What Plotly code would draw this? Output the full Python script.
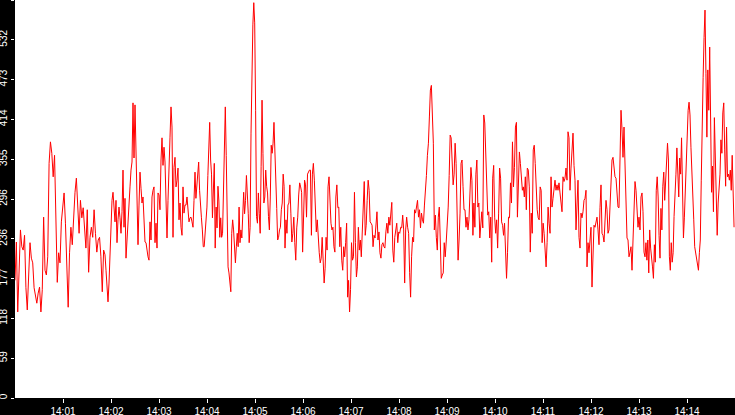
import numpy as np
import pandas as pd
import plotly.graph_objects as go

# samples, one list per 112.5 s stretch (14:00:00 -> 14:15:00)
seg_1 = [175, 232, 128, 187, 250, 225, 220, 242, 164, 131, 190, 231, 208, 201,
         164, 150, 141, 156, 165, 128, 161, 269, 190, 183, 210, 349, 381, 364,
         329, 361, 275, 172, 216, 201, 262, 290, 305, 260, 175, 135, 216, 254,
         228, 269, 306, 327, 290, 245, 294, 268, 283, 253, 223, 280, 187, 239,
         254, 239, 280, 245, 217, 235, 239, 210, 158, 220]
seg_2 = [213, 190, 165, 143, 171, 208, 260, 294, 306, 277, 262, 294, 231, 265,
         284, 268, 245, 277, 339, 254, 297, 208, 239, 269, 284, 314, 339, 351,
         439, 357, 436, 364, 275, 228, 287, 336, 312, 290, 299, 262, 232, 231,
         216, 210, 205, 262, 235, 299, 309, 314, 231, 260, 223, 305, 302, 280,
         354, 387, 346, 373, 351, 297, 238, 294, 331, 388, 433, 403, 239, 343,
         358, 314, 324, 342, 265, 290, 254, 242, 314, 275, 287, 287, 299, 280,
         262, 268, 269, 262, 254, 294]
seg_3 = [336, 297, 317, 344, 351, 309, 280, 268, 250, 225, 225, 250, 277, 284,
         331, 384, 410, 354, 333, 268, 320, 349, 223, 284, 253, 315, 293, 239,
         268, 239, 245, 324, 403, 433, 361, 245, 195, 186, 173, 158, 245, 265,
         250, 220, 201, 225, 245, 225, 284, 231, 250, 238, 274, 306, 274, 294,
         331, 305, 274, 231, 254, 394, 503, 555, 588, 558, 428, 270, 260, 305,
         274, 245, 344, 443, 364, 290, 299, 339, 315, 305, 270, 250, 299, 376,
         364, 379, 410, 354, 299, 282, 235, 239, 250, 254, 280, 290, 333, 315]
seg_4 = [223, 265, 245, 287, 290, 317, 275, 232, 245, 269, 231, 205, 253, 269,
         302, 320, 314, 306, 217, 260, 324, 317, 269, 333, 336, 339, 339, 242,
         333, 349, 324, 280, 247, 265, 235, 216, 201, 208, 239, 195, 171, 193,
         239, 220, 314, 329, 290, 260, 250, 254, 225, 217, 299, 317, 283, 284,
         225, 254, 205, 190, 225, 210, 231, 260, 150, 175, 128, 161, 231, 205,
         210, 306, 231, 180, 195, 254, 220, 235, 210, 254, 290, 322, 242, 257,
         294, 324, 309, 262, 260, 257, 225, 242]
seg_5 = [238, 265, 277, 235, 247, 216, 208, 228, 231, 225, 223, 247, 260, 245,
         269, 257, 282, 291, 220, 202, 239, 247, 260, 231, 247, 245, 254, 253,
         272, 250, 171, 250, 269, 254, 245, 187, 150, 210, 239, 232, 280, 275,
         287, 294, 269, 280, 253, 275, 265, 260, 287, 306, 331, 361, 379, 418,
         458, 465, 428, 379, 250, 272, 239, 220, 269, 284, 235, 178, 183, 186,
         231, 210, 232, 254, 284, 331, 391, 387, 344, 317, 333, 379, 349, 245,
         205, 235, 275, 349, 354, 315, 280]
seg_6 = [280, 254, 269, 250, 265, 294, 343, 324, 242, 290, 254, 333, 354, 284,
         290, 238, 269, 277, 253, 421, 409, 366, 306, 272, 277, 238, 269, 202,
         327, 346, 269, 245, 265, 223, 275, 342, 327, 262, 257, 242, 260, 216,
         178, 216, 269, 268, 320, 290, 381, 314, 343, 403, 410, 269, 312, 366,
         349, 329, 309, 314, 299, 329, 280, 342, 339, 314, 217, 275, 245, 369,
         376, 349, 305, 280, 268, 265, 314, 309, 231, 260, 245, 205, 195, 231,
         284, 260, 245, 329, 284, 297, 309]
seg_7 = [324, 309, 317, 309, 320, 305, 294, 277, 329, 322, 327, 342, 324, 396,
         387, 309, 342, 369, 394, 346, 324, 250, 287, 324, 239, 223, 275, 268,
         277, 294, 297, 309, 195, 231, 216, 238, 254, 165, 231, 257, 254, 260,
         269, 250, 228, 283, 317, 245, 242, 232, 268, 294, 280, 245, 250, 284,
         327, 354, 358, 342, 329, 327, 299, 284, 283, 387, 428, 400, 358, 403,
         343, 277, 238, 235, 210, 217, 225, 190, 242, 294, 322, 309, 287, 254,
         269, 250, 299, 305, 277, 217]
seg_8 = [210, 231, 205, 235, 186, 250, 223, 201, 195, 178, 228, 202, 309, 329,
         299, 242, 208, 282, 250, 315, 336, 294, 324, 351, 379, 354, 210, 190,
         231, 202, 216, 270, 317, 333, 372, 320, 299, 357, 333, 387, 305, 238,
         269, 318, 344, 388, 428, 440, 421, 373, 344, 299, 265, 225, 216, 201,
         195, 190, 216, 235, 324, 421, 477, 536, 577, 483, 388, 488, 428, 522,
         434, 306, 345, 277, 417, 349, 294, 242, 290, 309, 333, 384, 364, 424,
         439, 369, 315, 403, 329, 333, 324, 339, 309, 361, 274, 254]

segments = [seg_1, seg_2, seg_3, seg_4, seg_5, seg_6, seg_7, seg_8]
seg_seconds = 112.5
start = pd.Timestamp("2024-01-01 14:00:00")

y_max = 592
y_tick_text = ["0", "59", "118", "177", "236", "296", "355", "414", "473",
               "532", "592"]
x_tick_labels = ["14:%02d" % m for m in range(1, 15)]

times = []
values = []
for i, seg in enumerate(segments):
    step = seg_seconds / len(seg)
    for k, v in enumerate(seg):
        times.append(start + pd.Timedelta(seconds=i * seg_seconds + k * step))
        values.append(v)

x_tick_vals = [start + pd.Timedelta(minutes=m) for m in range(1, 15)]
y_tick_vals = np.linspace(0, y_max, len(y_tick_text))

fig = go.Figure()
fig.add_trace(go.Scatter(x=times, y=values, mode="lines",
                         line=dict(color="#ff0000", width=1),
                         hoverinfo="x+y"))

fig.update_layout(
    width=735, height=415,
    margin=dict(l=15, r=0, t=0, b=17, pad=0),
    paper_bgcolor="black", plot_bgcolor="white",
    showlegend=False,
    font=dict(family="Liberation Sans", size=10, color="white"),
)
fig.update_xaxes(
    range=[start, start + pd.Timedelta(minutes=15)],
    tickvals=x_tick_vals, ticktext=x_tick_labels,
    ticks="outside", ticklen=4, tickcolor="white", tickwidth=1,
    showgrid=False, zeroline=False, showline=False, automargin=False,
    tickfont=dict(family="Liberation Sans", size=10, color="white"),
)
fig.update_yaxes(
    range=[0, y_max],
    tickvals=y_tick_vals, ticktext=y_tick_text, tickangle=-90,
    ticks="outside", ticklen=3, tickcolor="white", tickwidth=1,
    showgrid=False, zeroline=False, showline=False, automargin=False,
    tickfont=dict(family="Liberation Sans", size=10, color="white"),
)

# page has a default body margin; drop it so the chart fills the window
fig.write_html("out.html",
               config={"displayModeBar": False},
               post_script="document.body.style.margin='0';"
                           "document.body.style.background='black';")
